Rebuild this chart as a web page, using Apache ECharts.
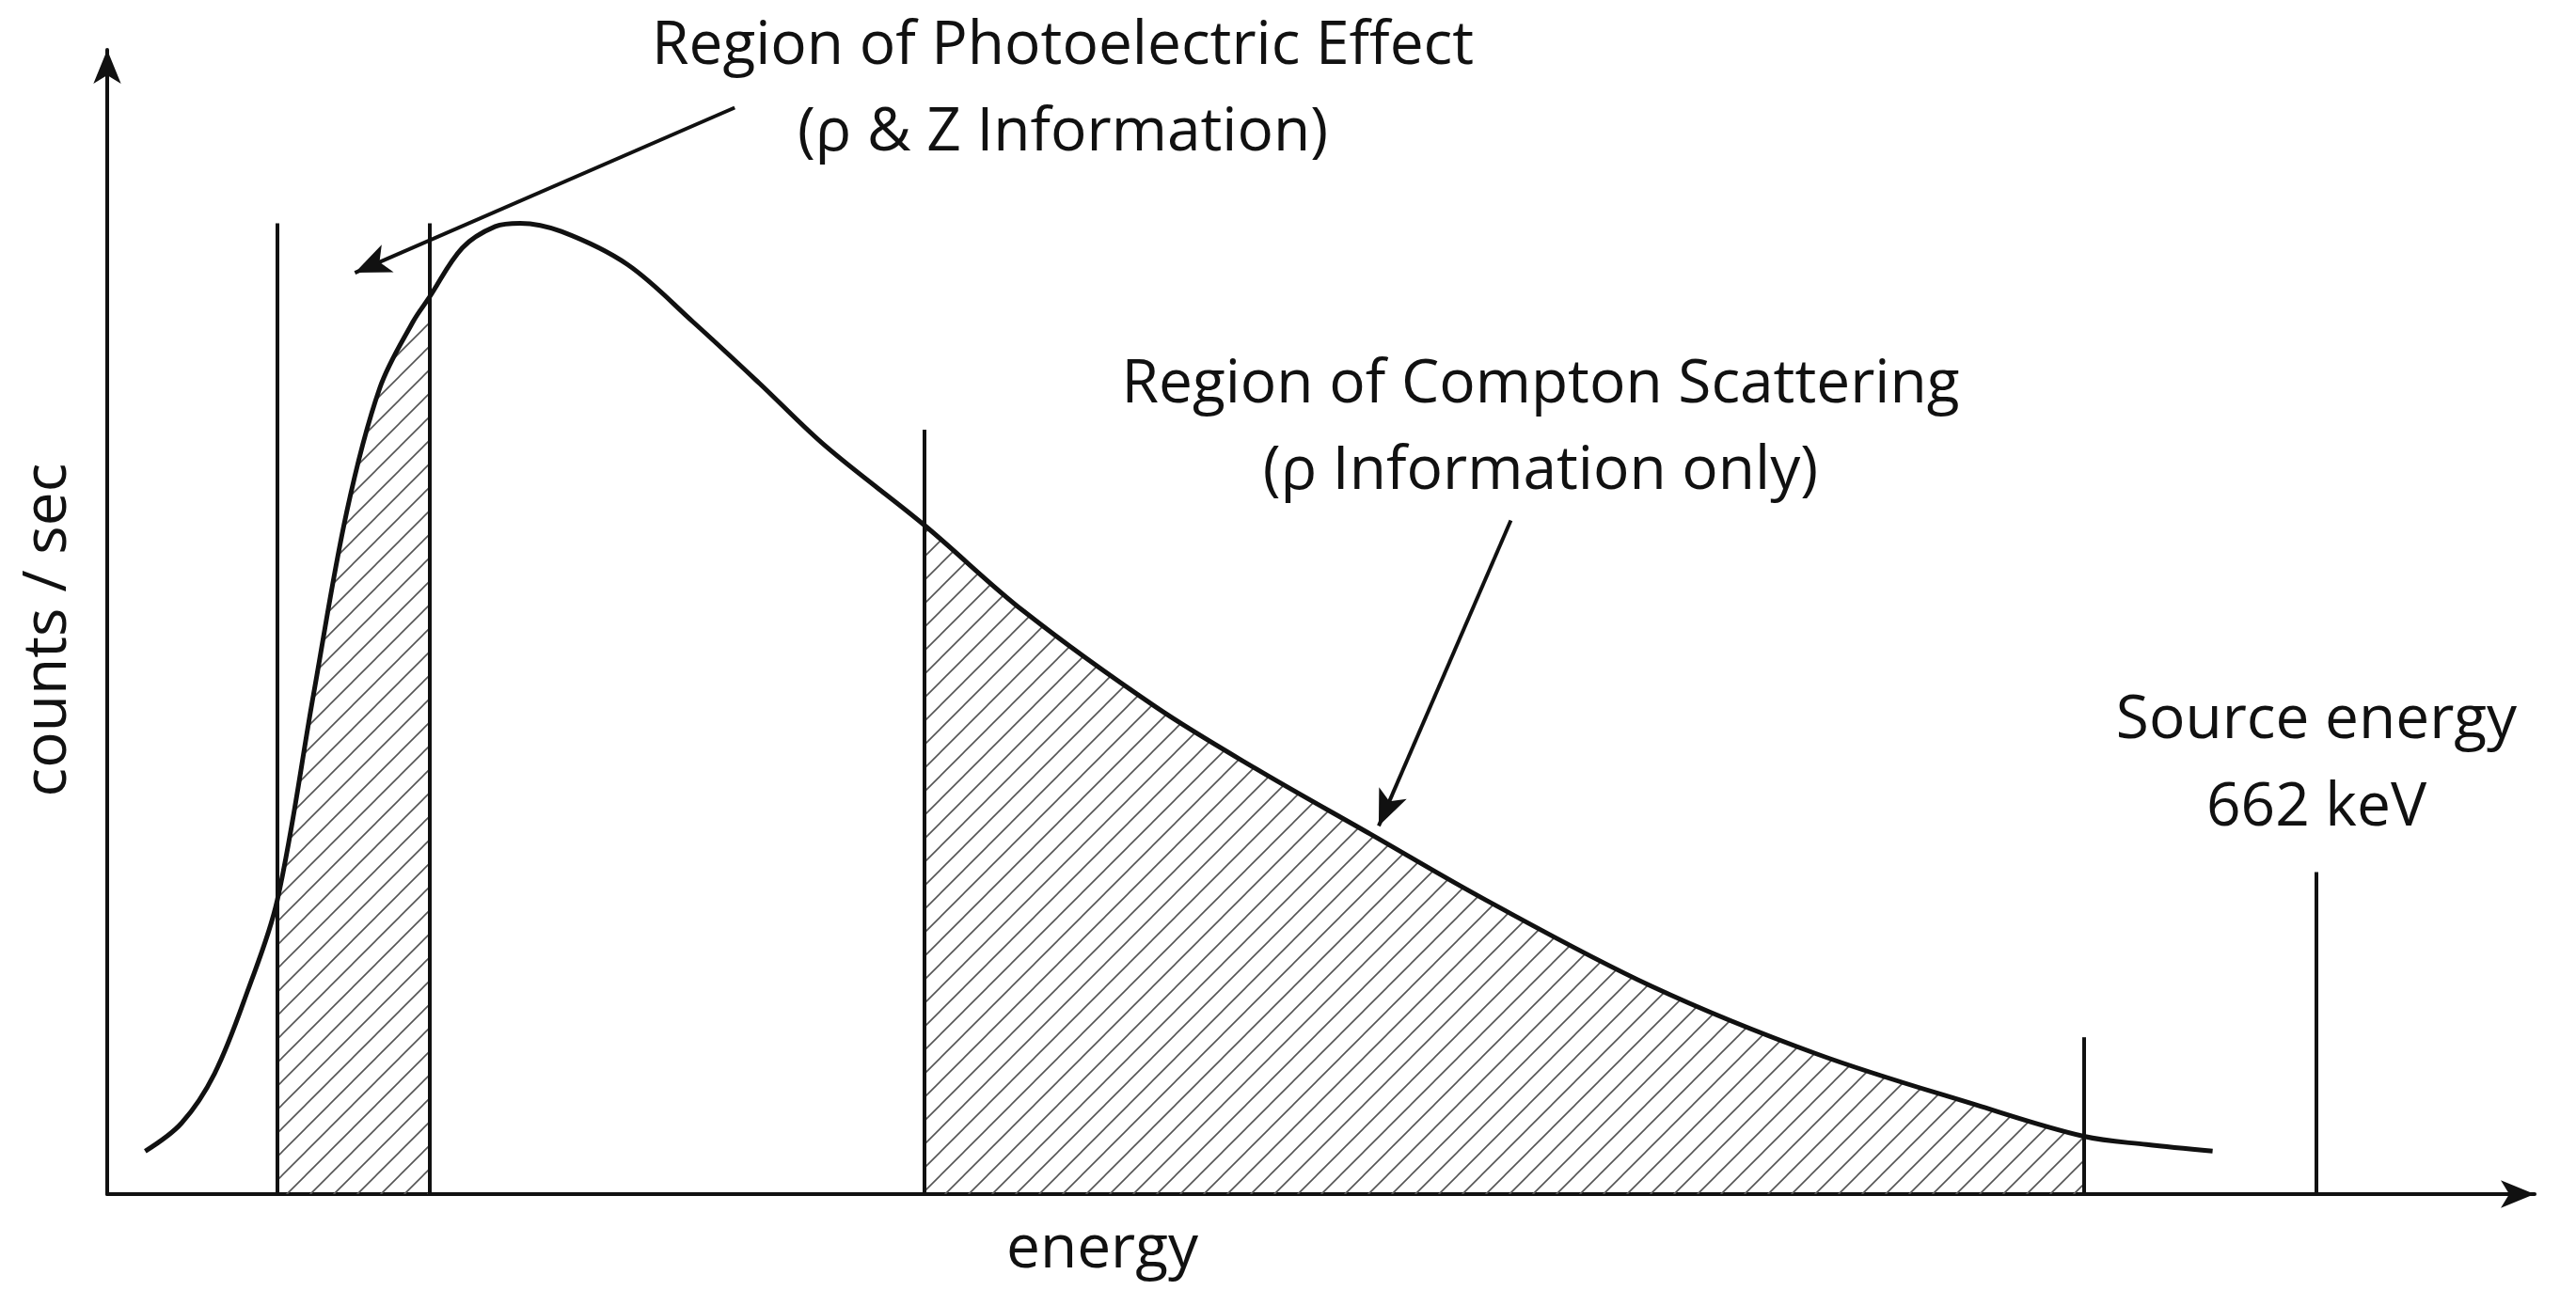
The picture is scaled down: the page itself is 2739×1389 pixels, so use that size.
<!DOCTYPE html>
<html>
<head>
<meta charset="utf-8">
<script src="https://cdn.jsdelivr.net/npm/echarts@6/dist/echarts.min.js"></script>
<style>html,body{margin:0;background:#fff}#c{width:2739px;height:1389px}</style>
</head>
<body>
<div id="c"></div>
<script>
// spectrum curve, [energy, counts] in arbitrary units
const curve = [
  [23, 26], [45, 43], [65, 73], [85, 123], [103, 178], [125, 303], [145, 413],
  [165, 488], [185, 528], [195, 543], [215, 573], [235, 586], [250, 588],
  [275, 583], [315, 563], [355, 528], [395, 491], [435, 453], [495, 405],
  [555, 353], [635, 295], [695, 258], [765, 218], [835, 178], [935, 126],
  [1035, 85], [1135, 53], [1197, 35], [1235, 30], [1275, 26]
];
// vertical markers [energy, height]
const markers = [[103, 588], [195, 588], [495, 463], [1197, 95], [1338, 195]];
// hatched ranges
const photoRange = [103, 195];
const comptonRange = [495, 1197];

const hatch = document.createElement('canvas');
hatch.width = 25; hatch.height = 25;
const g = hatch.getContext('2d');
g.strokeStyle = '#555'; g.lineWidth = 1.6;
g.beginPath();
g.moveTo(0, 25); g.lineTo(25, 0);
g.moveTo(-5, 5); g.lineTo(5, -5);
g.moveTo(20, 30); g.lineTo(30, 20);
g.stroke();

const SMOOTH = 0.35;
function inRange(r) { return curve.filter(p => p[0] >= r[0] && p[0] <= r[1]); }
function hatchSeries(r) {
  return {
    type: 'line', data: inRange(r), symbol: 'none', silent: true, smooth: SMOOTH,
    lineStyle: { width: 0 },
    areaStyle: { color: { image: hatch, repeat: 'repeat' }, opacity: 1 }
  };
}

const chart = echarts.init(document.getElementById('c'));
const font = '"Open Sans", sans-serif';
const txt = (x, y, s) => ({
  type: 'text', x: x, y: y,
  style: { text: s, font: '64px ' + font, fill: '#111', textAlign: 'center', textVerticalAlign: 'top' }
});

chart.setOption({
  animation: false,
  grid: { left: 114, right: 44, top: 53, bottom: 119 },
  xAxis: {
    type: 'value', min: 0, max: 1470,
    axisLine: { lineStyle: { color: '#111', width: 4 }, symbol: ['none', 'arrow'], symbolSize: [22, 36] },
    axisTick: { show: false }, axisLabel: { show: false }, splitLine: { show: false }
  },
  yAxis: {
    type: 'value', min: 0, max: 693,
    axisLine: { show: true, lineStyle: { color: '#111', width: 4 }, symbol: ['none', 'arrow'], symbolSize: [22, 36] },
    axisTick: { show: false }, axisLabel: { show: false }, splitLine: { show: false }
  },
  series: [
    hatchSeries(photoRange),
    hatchSeries(comptonRange),
    {
      type: 'line', data: curve, smooth: SMOOTH, symbol: 'none',
      lineStyle: { color: '#111', width: 5 },
      markLine: {
        silent: true, symbol: 'none',
        lineStyle: { color: '#111', width: 4, type: 'solid' }, label: { show: false },
        data: markers.map(m => [{ coord: [m[0], 0] }, { coord: [m[0], m[1]] }])
          .concat([
            [{ coord: [380, 658], symbol: 'none' }, { coord: [150, 558], symbol: 'arrow', symbolSize: [24, 38] }],
            [{ coord: [850, 408], symbol: 'none' }, { coord: [770, 223], symbol: 'arrow', symbolSize: [24, 38] }]
          ])
      }
    }
  ],
  graphic: [
    txt(1130, 18, 'Region of Photoelectric Effect'),
    txt(1130, 110, '(ρ & Z Information)'),
    txt(1638, 378, 'Region of Compton Scattering'),
    txt(1638, 470, '(ρ Information only)'),
    txt(2463, 735, 'Source energy'),
    txt(2463, 828, '662 keV'),
    txt(1172, 1298, 'energy'),
    { type: 'text', x: 20, y: 670, rotation: Math.PI / 2,
      style: { text: 'counts / sec', font: '64px ' + font, fill: '#111', textAlign: 'center', textVerticalAlign: 'top' } }
  ]
});
</script>
</body>
</html>
